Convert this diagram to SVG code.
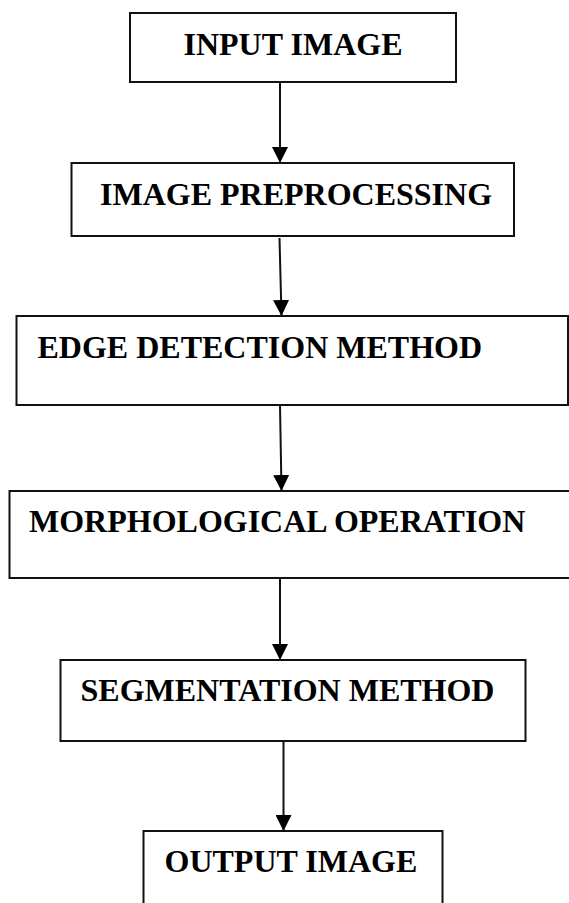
<svg xmlns="http://www.w3.org/2000/svg" width="569" height="903" viewBox="0 0 569 903">
  <style>
    .box { fill: #ffffff; stroke: #111111; stroke-width: 2; }
    .label { font-family: 'Liberation Serif', 'Times New Roman', serif; font-weight: 700; font-size: 32px; fill: #000000; }
    .flow { stroke: #111111; stroke-width: 2; fill: none; marker-end: url(#head); }
  </style>
  <defs>
    <marker id="head" markerUnits="userSpaceOnUse" markerWidth="16" markerHeight="16" refX="16" refY="8" orient="auto">
      <path d="M0,0 L16,8 L0,16 Z" fill="#000000"/>
    </marker>
  </defs>
  <rect width="569" height="903" fill="#ffffff"/>

  <!-- processing stages, top to bottom -->
  <g id="input-image">
    <rect class="box" x="130" y="13" width="326" height="69"/>
    <text class="label" x="183.5" y="54.5">INPUT IMAGE</text>
  </g>
  <g id="image-preprocessing">
    <rect class="box" x="71.5" y="163" width="442.5" height="73"/>
    <text class="label" x="100" y="204.5">IMAGE PREPROCESSING</text>
  </g>
  <g id="edge-detection">
    <rect class="box" x="16.5" y="316" width="551.5" height="89"/>
    <text class="label" x="37.5" y="357.5">EDGE DETECTION METHOD</text>
  </g>
  <g id="morphological-operation">
    <rect class="box" x="9.5" y="491" width="565" height="87"/>
    <text class="label" x="29" y="532">MORPHOLOGICAL OPERATION</text>
  </g>
  <g id="segmentation">
    <rect class="box" x="60.5" y="660" width="465" height="81"/>
    <text class="label" x="80.5" y="701">SEGMENTATION METHOD</text>
  </g>
  <g id="output-image">
    <rect class="box" x="143.5" y="831" width="299" height="90"/>
    <text class="label" x="164.5" y="871.5">OUTPUT IMAGE</text>
  </g>

  <!-- connectors -->
  <g id="connectors">
    <line class="flow" x1="280" y1="82" x2="280" y2="163"/>
    <line class="flow" x1="279.5" y1="238" x2="281.5" y2="316"/>
    <line class="flow" x1="280" y1="405" x2="281.5" y2="491"/>
    <line class="flow" x1="280" y1="578" x2="280" y2="660"/>
    <line class="flow" x1="283.5" y1="741" x2="283.5" y2="831"/>
  </g>
</svg>
